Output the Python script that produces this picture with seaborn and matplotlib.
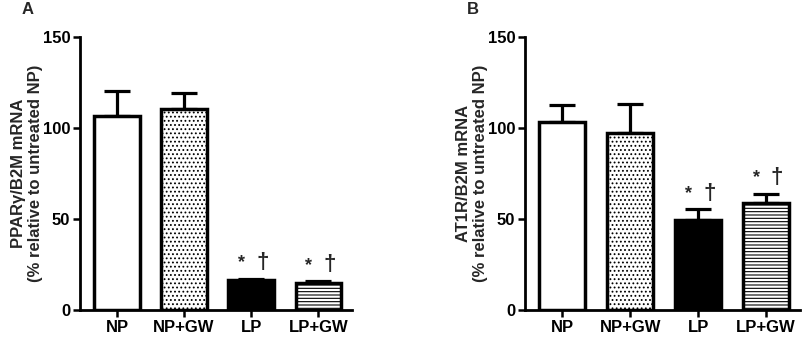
import matplotlib
matplotlib.use("Agg")
import matplotlib.pyplot as plt
import seaborn as sns
import pandas as pd
import numpy as np

groups = ["NP", "NP+GW", "LP", "LP+GW"]
ppar_mean = [106.5, 110.5, 16.5, 15.0]
ppar_err = [14.0, 8.5, 0.8, 1.0]
at1r_mean = [103.3, 97.4, 49.5, 59.0]
at1r_err = [9.5, 15.8, 5.8, 5.0]
yticks = [0, 50, 100, 150]
ylabels = ["PPARγ/B2M mRNA\n(% relative to untreated NP)",
           "AT1R/B2M mRNA\n(% relative to untreated NP)"]
panel_letters = ["A", "B"]
fills = ["white", "white", "black", "white"]
hatches = ["", "....", "", "-----"]
sig_groups = ["LP", "LP+GW"]

sns.set_theme(style="ticks")
plt.rcParams["font.family"] = ["Liberation Sans", "DejaVu Sans"]
plt.rcParams["font.weight"] = "bold"
plt.rcParams["hatch.linewidth"] = 0.8

fig = plt.figure(figsize=(8.02, 3.38), dpi=100)
axA = fig.add_axes([80/802, 28/338, 272/802, 273/338])
axB = fig.add_axes([525/802, 28/338, 275/802, 273/338])

for ax, means, errs, ylab, letter, lx in [
        (axA, ppar_mean, ppar_err, ylabels[0], "A", 28/802),
        (axB, at1r_mean, at1r_err, ylabels[1], "B", 473/802)]:
    df = pd.DataFrame({"group": groups, "value": means})
    sns.barplot(data=df, x="group", y="value", ax=ax, order=groups,
                width=0.68, errorbar=None, color="white", zorder=3)
    for p, fc, h in zip(ax.patches, fills, hatches):
        p.set_facecolor(fc)
        p.set_edgecolor("black")
        p.set_linewidth(2.5)
        p.set_hatch(h)
    x = np.arange(len(groups))
    ax.errorbar(x, means, yerr=[np.zeros(len(errs)), errs], fmt="none",
                ecolor="black", elinewidth=2.3, capsize=9.5, capthick=2.3, zorder=2)
    for g in sig_groups:
        i = groups.index(g)
        top = means[i] + errs[i]
        ax.annotate("*", (i, top), xytext=(-7, 5), textcoords="offset points",
                    ha="center", va="bottom", fontsize=13, fontweight="bold")
        ax.annotate("†", (i, top), xytext=(8, 4), textcoords="offset points",
                    ha="center", va="bottom", fontsize=16, fontweight="bold")
    ax.set_ylim(0, 150)
    ax.set_xlim(-0.55, 3.5)
    ax.set_yticks(yticks)
    ax.set_ylabel(ylab, fontsize=12, fontweight="bold", labelpad=0, linespacing=1.1)
    ax.set_xlabel("")
    sns.despine(ax=ax)
    for s in ["left", "bottom"]:
        ax.spines[s].set_linewidth(2)
        ax.spines[s].set_color("black")
    ax.tick_params(axis="both", width=1.8, length=5, labelsize=12, colors="black", pad=2)
    for lbl in ax.get_xticklabels() + ax.get_yticklabels():
        lbl.set_fontweight("bold")
    ax.set_facecolor("none")
    fig.text(lx, 1 - 10/338, letter, fontsize=12, fontweight="bold", ha="center", va="center")

fig.savefig("out.png", dpi=100)
